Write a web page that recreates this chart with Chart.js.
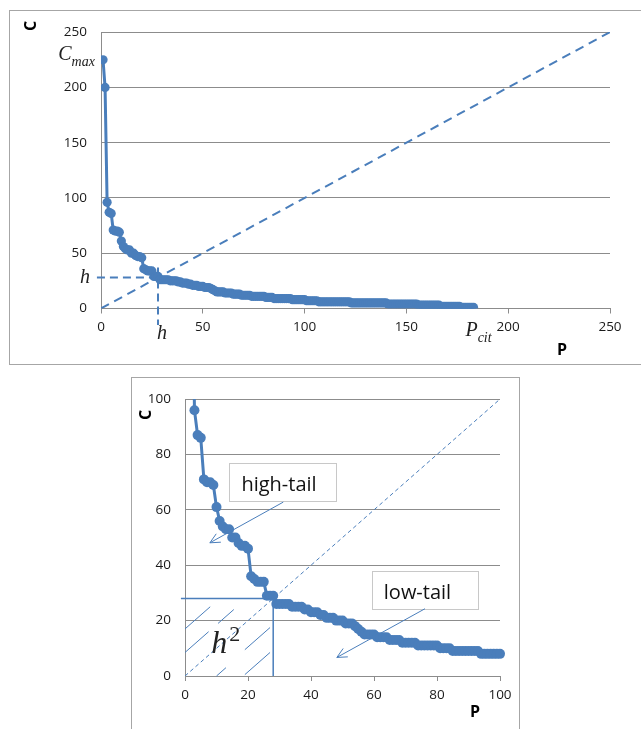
<!DOCTYPE html>
<html>
<head>
<meta charset="utf-8">
<script src="https://cdn.jsdelivr.net/npm/chart.js@4.4.0/dist/chart.umd.min.js"></script>
<style>
  body { margin: 0; background: #fff; width: 641px; height: 729px; overflow: hidden; position: relative; }
  .frame { position: absolute; border: 1px solid #a6a6a6; box-sizing: border-box; }
  canvas { position: absolute; }
</style>
</head>
<body>
<div class="frame" style="left:9px;top:10px;width:640px;height:355px"></div>
<canvas id="full" width="632" height="355" style="left:9px;top:10px"></canvas>
<div class="frame" style="left:131px;top:377px;width:389px;height:360px"></div>
<canvas id="zoom" width="388" height="352" style="left:131px;top:377px"></canvas>
<script>
// citations per paper, sorted high to low (rank P = position in list)
var citations = [
    225, 200, 96, 87, 86, 71, 70, 70, 69, 61,
    56, 54, 53, 53, 50, 50, 48, 47, 47, 46,
    36, 35, 34, 34, 34, 29, 29, 29, 26, 26,
    26, 26, 26, 25, 25, 25, 25, 24, 24, 23,
    23, 23, 22, 22, 21, 21, 21, 20, 20, 20,
    19, 19, 19, 18, 17, 16, 15, 15, 15, 15,
    14, 14, 14, 14, 13, 13, 13, 13, 12, 12,
    12, 12, 12, 11, 11, 11, 11, 11, 11, 11,
    10, 10, 10, 10, 9, 9, 9, 9, 9, 9,
    9, 9, 9, 8, 8, 8, 8, 8, 8, 8,
    7, 7, 7, 7, 7, 7, 6, 6, 6, 6,
    6, 6, 6, 6, 6, 6, 6, 6, 6, 6,
    6, 6, 5, 5, 5, 5, 5, 5, 5, 5,
    5, 5, 5, 5, 5, 5, 5, 5, 5, 5,
    4, 4, 4, 4, 4, 4, 4, 4, 4, 4,
    4, 4, 4, 4, 4, 3, 3, 3, 3, 3,
    3, 3, 3, 3, 3, 3, 2, 2, 2, 2,
    2, 2, 2, 2, 2, 2, 1, 1, 1, 1,
    1, 1, 1
];
var ranks = citations.map((c, i) => i + 1);
var hIndex = 28;

var fullRange = [0, 250];
var zoomRange = [0, 100];

// hatch strokes inside the h x h square: [P0, C0, P1, C1]
var hatch = [
    [0, 17, 8, 25],
    [0, 8.5, 7.5, 16],
    [10.5, 19, 15.5, 24],
    [10, 0, 13, 3],
    [19, 9.5, 27, 17.5],
    [19, 0.5, 27, 8.5]
];

var blue = "#4a7ebb";
var grid = "#8c8c8c";
var tickFont = {family: "Open Sans", size: 13.5};

function points(maxP) {
    var out = [];
    ranks.forEach((p, i) => {
        if (p <= maxP) out.push({x: p, y: citations[i]});
    });
    return out;
}

function seg(ctx, x, y, a, b, c, d) {
    ctx.beginPath();
    ctx.moveTo(x.getPixelForValue(a), y.getPixelForValue(b));
    ctx.lineTo(x.getPixelForValue(c), y.getPixelForValue(d));
    ctx.stroke();
}

// italic letter with a subscript, anchored at its baseline
function mathLabel(ctx, main, sub, px, py, size, alignRight) {
    var subSize = Math.round(size * 0.72);
    ctx.font = "italic " + size + "px 'Liberation Serif'";
    var w1 = ctx.measureText(main).width;
    ctx.font = "italic " + subSize + "px 'Liberation Serif'";
    var w2 = sub ? ctx.measureText(sub).width : 0;
    var left = alignRight ? px - w1 - w2 : px;
    ctx.textAlign = "left";
    ctx.textBaseline = "alphabetic";
    ctx.font = "italic " + size + "px 'Liberation Serif'";
    ctx.fillText(main, left, py);
    if (sub) {
        ctx.font = "italic " + subSize + "px 'Liberation Serif'";
        ctx.fillText(sub, left + w1, py + 6);
    }
}

function arrow(ctx, x, y, a, b, c, d) {
    var x0 = x.getPixelForValue(a), y0 = y.getPixelForValue(b);
    var x1 = x.getPixelForValue(c), y1 = y.getPixelForValue(d);
    ctx.beginPath();
    ctx.moveTo(x0, y0);
    ctx.lineTo(x1, y1);
    var ang = Math.atan2(y1 - y0, x1 - x0);
    [-0.45, 0.45].forEach(da => {
        ctx.moveTo(x1, y1);
        ctx.lineTo(x1 - 11 * Math.cos(ang + da), y1 - 11 * Math.sin(ang + da));
    });
    ctx.stroke();
}

function axisTitle(ctx, text, px, py, rotate) {
    ctx.save();
    ctx.translate(px, py);
    if (rotate) ctx.rotate(-Math.PI / 2);
    ctx.font = "bold 16px 'Open Sans'";
    ctx.fillStyle = "#000";
    ctx.textAlign = "center";
    ctx.textBaseline = "middle";
    ctx.fillText(text, 0, 0);
    ctx.restore();
}

function scales(max, step, yWidth, xHeight) {
    return {
        x: {
            type: "linear", min: 0, max: max,
            afterFit: s => { s.height = xHeight; },
            ticks: {stepSize: step, font: tickFont, color: "#1a1a1a", padding: 6, maxRotation: 0},
            grid: {display: true, drawOnChartArea: false, drawTicks: true, tickLength: 5, color: grid},
            border: {display: true, color: grid}
        },
        y: {
            type: "linear", min: 0, max: max,
            afterFit: s => { s.width = yWidth; },
            ticks: {stepSize: step, font: tickFont, color: "#1a1a1a", padding: 14},
            grid: {color: grid, drawTicks: false},
            border: {display: true, color: grid}
        }
    };
}

var fullLabels = {
    id: "fullLabels",
    afterDraw(chart) {
        var ctx = chart.ctx, x = chart.scales.x, y = chart.scales.y;
        ctx.save();
        ctx.fillStyle = "#222";
        mathLabel(ctx, "C", "max", x.getPixelForValue(-3), y.getPixelForValue(225), 20, true);
        mathLabel(ctx, "h", "", x.getPixelForValue(-5.4), y.getPixelForValue(22.7), 20, true);
        mathLabel(ctx, "h", "", x.getPixelForValue(27.5), y.getPixelForValue(-28), 20, false);
        mathLabel(ctx, "P", "cit", x.getPixelForValue(179), y.getPixelForValue(-25.3), 20, false);
        ctx.restore();
        axisTitle(ctx, "C", 22, 16, true);
        axisTitle(ctx, "P", 553, 340, false);
    }
};

var zoomDecor = {
    id: "zoomDecor",
    beforeDatasetsDraw(chart) {
        var ctx = chart.ctx, x = chart.scales.x, y = chart.scales.y;
        ctx.save();
        ctx.strokeStyle = blue;
        ctx.lineWidth = 1;
        hatch.forEach(h => seg(ctx, x, y, h[0], h[1], h[2], h[3]));
        ctx.restore();
    },
    afterDraw(chart) {
        var ctx = chart.ctx, x = chart.scales.x, y = chart.scales.y;
        ctx.save();
        // h^2
        ctx.fillStyle = "#222";
        ctx.textBaseline = "alphabetic";
        ctx.textAlign = "left";
        ctx.font = "italic 32px 'Liberation Serif'";
        var hx = x.getPixelForValue(8.3), hy = y.getPixelForValue(8.2);
        ctx.fillText("h", hx, hy);
        var hw = ctx.measureText("h").width;
        ctx.font = "22px 'Liberation Serif'";
        ctx.fillText("2", hx + hw + 2, hy - 12);

        // callout boxes
        var boxes = [
            ["high-tail", 14.1, 76.8, 48.2, 63.1, [31.2, 62.8, 7.9, 48.1]],
            ["low-tail", 59.3, 38, 93.1, 24.3, [76.2, 24.3, 48.2, 6.7]]
        ];
        boxes.forEach(b => {
            var l = x.getPixelForValue(b[1]), t = y.getPixelForValue(b[2]);
            var r = x.getPixelForValue(b[3]), btm = y.getPixelForValue(b[4]);
            ctx.fillStyle = "#fff";
            ctx.fillRect(l, t, r - l, btm - t);
            ctx.strokeStyle = "#c8c8c8";
            ctx.lineWidth = 1;
            ctx.strokeRect(Math.round(l) + 0.5, Math.round(t) + 0.5, Math.round(r - l), Math.round(btm - t));
            ctx.fillStyle = "#111";
            ctx.font = "20px 'Open Sans'";
            ctx.fillText(b[0], l + 12, t + 28);
            ctx.strokeStyle = blue;
            var a = b[5];
            arrow(ctx, x, y, a[0], a[1], a[2], a[3]);
        });
        ctx.restore();
        axisTitle(ctx, "C", 15, 38, true);
        axisTitle(ctx, "P", 344, 335, false);
    }
};

var common = {
    responsive: false,
    animation: false,
    events: [],
    plugins: {legend: {display: false}, tooltip: {enabled: false}}
};

new Chart("full", {
    type: "scatter",
    data: {
        datasets: [
            {
                data: points(1000), showLine: true, borderColor: blue, backgroundColor: blue,
                borderWidth: 3, pointRadius: 4.6, pointBorderWidth: 0
            },
            {
                data: fullRange.map(v => ({x: v, y: v})), showLine: true, borderColor: blue,
                borderWidth: 2, borderDash: [9, 6], pointRadius: 0
            },
            {
                data: [{x: -2, y: hIndex}, {x: hIndex + 1, y: hIndex}], showLine: true, borderColor: blue,
                borderWidth: 2, borderDash: [8, 5], pointRadius: 0, clip: false
            },
            {
                data: [{x: hIndex, y: 37}, {x: hIndex, y: -15}], showLine: true, borderColor: blue,
                borderWidth: 2, borderDash: [8, 5], pointRadius: 0, clip: false
            }
        ]
    },
    options: Object.assign({}, common, {
        layout: {padding: {left: 0, top: 18, right: 31, bottom: 0}},
        scales: scales(250, 50, 92, 56.5)
    }),
    plugins: [fullLabels]
});

new Chart("zoom", {
    type: "scatter",
    data: {
        datasets: [
            {
                data: points(100), showLine: true, borderColor: blue, backgroundColor: blue,
                borderWidth: 3, pointRadius: 5, pointBorderWidth: 0,
                clip: {left: 8, right: 8, top: 0, bottom: 8}
            },
            {
                data: zoomRange.map(v => ({x: v, y: v})), showLine: true, borderColor: blue,
                borderWidth: 1, borderDash: [4, 3], pointRadius: 0
            },
            {
                data: [{x: -1.3, y: hIndex}, {x: hIndex, y: hIndex}, {x: hIndex, y: 0}], showLine: true,
                borderColor: blue, borderWidth: 1.5, pointRadius: 0, clip: false
            }
        ]
    },
    options: Object.assign({}, common, {
        layout: {padding: {left: 0, top: 20, right: 19, bottom: 0}},
        scales: scales(100, 20, 54, 53)
    }),
    plugins: [zoomDecor]
});
</script>
</body>
</html>
